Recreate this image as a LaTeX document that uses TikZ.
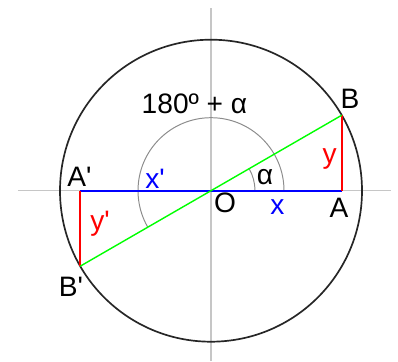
\documentclass[tikz,border=0pt]{standalone}
\usepackage{fontspec}
\setmainfont{Liberation Sans}
\begin{document}
\begin{tikzpicture}[x=0.025cm,y=0.025cm,
  lbl/.style={font=\fontsize{20}{24}\selectfont,inner sep=0pt},
  axis/.style={gray!45,line width=0.8pt},
  anglearc/.style={gray!90,line width=0.7pt}]
\useasboundingbox (-211,-170.3) rectangle (187,190.7);
\draw[axis] (-193,0) -- (180,0);
\draw[axis] (0,-170.3) -- (0,182.7);
\coordinate (O) at (0,0);
\coordinate (A) at (130.8,0);
\coordinate (B) at (130.8,75.5);
\coordinate (Ap) at (-130.8,0);
\coordinate (Bp) at (-130.8,-75.5);
\draw[black!85,line width=1.2pt] (O) circle (151);
\draw[anglearc] (73,0) arc (0:210:73);
\draw[anglearc] (44,0) arc (0:30:44);
\draw[blue,line width=1.2pt] (Ap) -- (A);
\draw[red,line width=1.1pt] (A) -- (B);
\draw[red,line width=1.1pt] (Ap) -- (Bp);
\draw[green,line width=1pt] (Bp) -- (B);
\node[lbl] (angle) at (-16.5,86.7) {180º + α};
\node[lbl] (labB) at (139,92) {B};
\node[lbl] (labA) at (128,-17) {A};
\node[lbl] (labO) at (14,-12.6) {O};
\node[lbl] (labAp) at (-131.5,14.2) {A\textquotesingle};
\node[lbl] (labBp) at (-140,-96) {B\textquotesingle};
\node[lbl] (alpha) at (54,13.2) {α};
\node[lbl,blue] (labx) at (66.5,-16) {x};
\node[lbl,blue] (labxp) at (-56,11.7) {x\textquotesingle};
\node[lbl,red] (laby) at (118.7,31.7) {y};
\node[lbl,red] (labyp) at (-111,-33.3) {y\textquotesingle};
\end{tikzpicture}
\end{document}
